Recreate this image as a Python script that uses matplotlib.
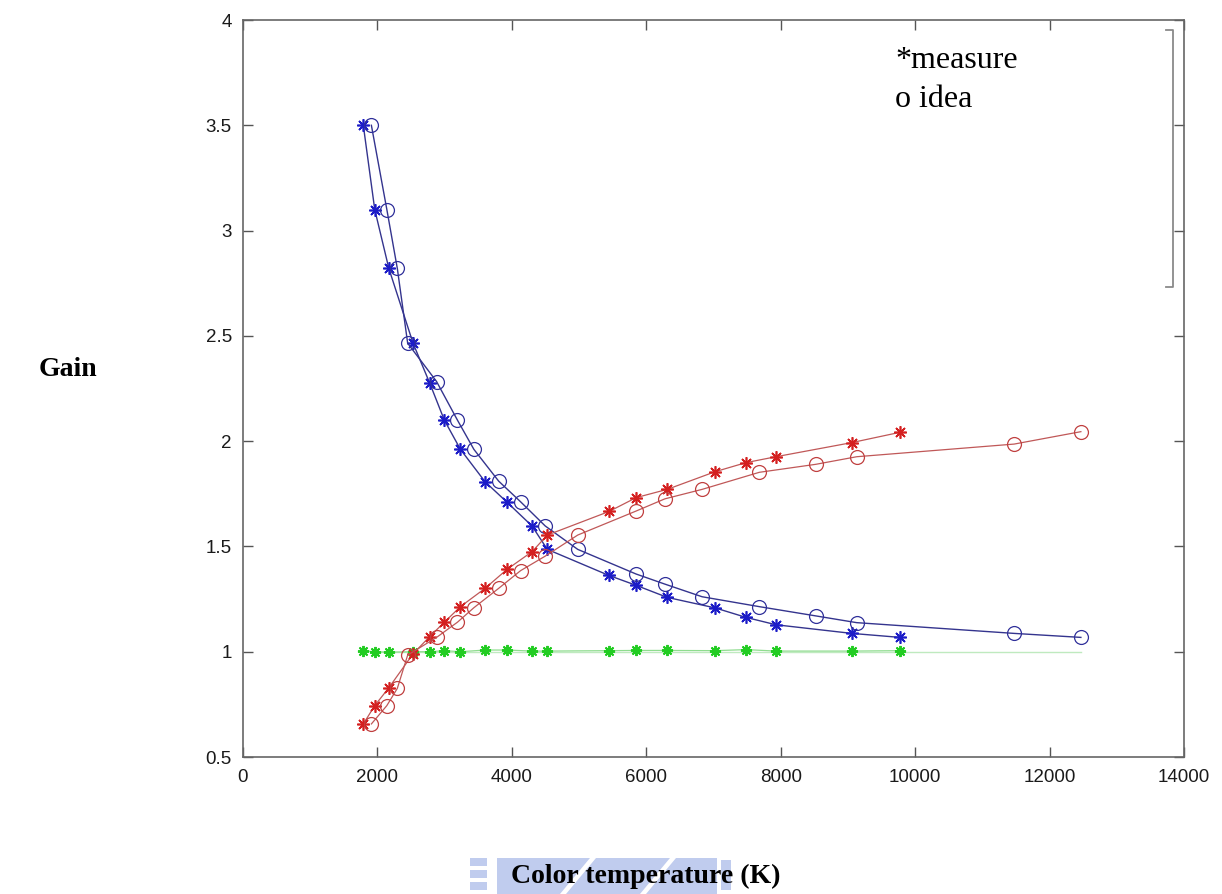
import numpy as np
import matplotlib
matplotlib.use("Agg")
import matplotlib.pyplot as plt
from matplotlib.patches import Rectangle, Polygon
from matplotlib.lines import Line2D

# colour temperatures (K) of the measured points and of the ideal points
meas_t = [1790, 1960, 2170, 2530, 2775, 2995, 3235, 3602, 3928, 4300,
          4528, 5446, 5851, 6312, 7025, 7484, 7929, 9057, 9775]
idea_t = [1910, 2140, 2296, 2450, 2880, 3190, 3435, 3804, 4130, 4497,
          4980, 5848, 6277, 6831, 7682, 8523, 9131, 11472, 12466]

# gains
blue_meas = [3.50, 3.10, 2.82, 2.465, 2.278, 2.10, 1.961, 1.807, 1.71, 1.597,
             1.486, 1.362, 1.315, 1.258, 1.208, 1.163, 1.128, 1.087, 1.068]
blue_idea = [3.50, 3.10, 2.82, 2.465, 2.283, 2.10, 1.961, 1.81, 1.712, 1.597,
             1.486, 1.369, 1.321, 1.261, 1.214, 1.170, 1.138, 1.087, 1.068]
red_meas = [0.657, 0.744, 0.829, 0.99, 1.071, 1.140, 1.214, 1.301, 1.391, 1.475,
            1.554, 1.666, 1.732, 1.771, 1.855, 1.898, 1.926, 1.993, 2.042]
red_idea = [0.657, 0.744, 0.826, 0.984, 1.068, 1.140, 1.209, 1.301, 1.385, 1.454,
            1.554, 1.668, 1.726, 1.771, 1.852, 1.89, 1.926, 1.986, 2.045]
green_meas = [1.005, 1.0, 0.998, 1.0, 1.0, 1.005, 1.0, 1.008, 1.008, 1.003,
              1.003, 1.005, 1.006, 1.006, 1.005, 1.01, 1.003, 1.003, 1.005]
green_idea = [1.0] * len(idea_t)

x_ticks = [0, 2000, 4000, 6000, 8000, 10000, 12000, 14000]
y_ticks = [0.5, 1, 1.5, 2, 2.5, 3, 3.5, 4]

W, H = 1222, 894
fig = plt.figure(figsize=(W / 100, H / 100), dpi=100)
fig.patch.set_facecolor("white")

# axes box in pixels: left 243, right 1184, top 20, bottom 757
ax = fig.add_axes([243 / W, 1 - 757 / H, (1184 - 243) / W, (757 - 20) / H])

star = (8, 2, 0)
ax.plot(idea_t, green_idea, color="#bfeabf", lw=1.0, zorder=1)
ax.plot(meas_t, green_meas, color="#8fdc8f", lw=0.9, marker=star, ms=8,
        mec="#22cc22", mew=1.4, zorder=2)

ax.plot(meas_t, blue_meas, color="#34348e", lw=1.0, marker=star, ms=9,
        mec="#1c1cc8", mew=1.2, zorder=3)
ax.plot(idea_t, blue_idea, color="#34348e", lw=1.0, marker="o", ms=10,
        mfc="none", mec="#30309a", mew=0.9, zorder=3)

ax.plot(meas_t, red_meas, color="#c05858", lw=0.9, marker=star, ms=9,
        mec="#d42020", mew=1.2, zorder=3)
ax.plot(idea_t, red_idea, color="#c05858", lw=0.9, marker="o", ms=10,
        mfc="none", mec="#c04040", mew=0.9, zorder=3)

ax.set_xlim(0, 14000)
ax.set_ylim(0.5, 4)
ax.set_xticks(x_ticks)
ax.set_yticks(y_ticks)
ax.set_xticklabels([f"{v:g}" for v in x_ticks])
ax.set_yticklabels([f"{v:g}" for v in y_ticks])
ax.tick_params(direction="in", length=7, width=1, color="#555555",
               top=True, right=True, labelsize=13.5, labelcolor="#1a1a1a")
ax.tick_params(axis="x", pad=9)
ax.tick_params(axis="y", pad=8)
for lab in ax.get_xticklabels() + ax.get_yticklabels():
    lab.set_family("Liberation Sans")
for s in ax.spines.values():
    s.set_color("#666666")
    s.set_linewidth(1.2)

# legend text and the bracket drawn inside the box
ax.text(0.693, 0.935, "*measure", transform=ax.transAxes, family="Liberation Serif",
        fontsize=23, va="baseline", ha="left")
ax.text(0.693, 0.882, "o idea", transform=ax.transAxes, family="Liberation Serif",
        fontsize=23, va="baseline", ha="left")
ax.add_line(Line2D([0.981, 0.988, 0.988, 0.981], [0.986, 0.986, 0.638, 0.638],
                   transform=ax.transAxes, color="#8a8a8a", lw=1.3))

# faint logo watermark behind the x label
wm = "#c0ccee"
for y0 in (858, 870, 882):
    fig.patches.append(Rectangle((470 / W, 1 - (y0 + 8) / H), 17 / W, 8 / H,
                                 transform=fig.transFigure, color=wm, lw=0))
fig.patches.append(Rectangle((497 / W, 0), (717 - 497) / W, (894 - 858) / H,
                             transform=fig.transFigure, color=wm, lw=0))
fig.patches.append(Rectangle((721 / W, 1 - 890 / H), 10 / W, 30 / H,
                             transform=fig.transFigure, color=wm, lw=0))
for x0 in (560, 640):
    fig.patches.append(Polygon([((x0) / W, 0), ((x0 + 6) / W, 0),
                                ((x0 + 36) / W, 1 - 858 / H), ((x0 + 30) / W, 1 - 858 / H)],
                               closed=True, transform=fig.transFigure, color="white", lw=0))

fig.text(646 / W, 1 - 883 / H, "Color temperature (K)", family="Liberation Serif",
         fontweight="bold", fontsize=20, ha="center", va="baseline")
fig.text(68 / W, 1 - 370 / H, "Gain", family="Liberation Serif",
         fontweight="bold", fontsize=20, ha="center", va="center")

fig.savefig("out.png", dpi=100, facecolor="white")
